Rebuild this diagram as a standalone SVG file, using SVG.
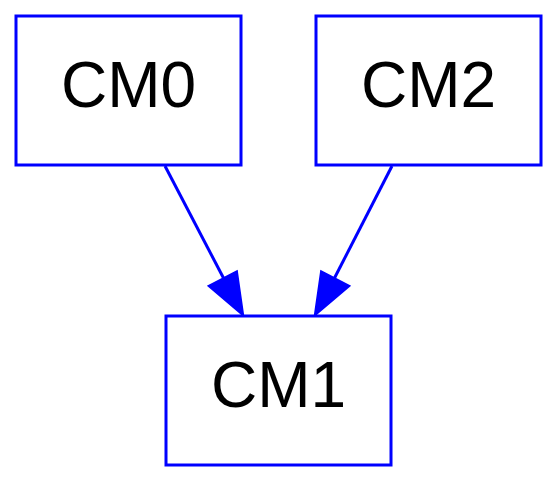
<svg xmlns="http://www.w3.org/2000/svg" width="558" height="483" viewBox="0 0 558 483">
<style>
.box{fill:#fff;stroke:#0000ff;stroke-width:3}
.lbl{font-family:"Liberation Sans",Arial,sans-serif;font-size:64px;fill:#000;text-anchor:middle}
.edge{stroke:#0000ff;stroke-width:3;fill:none}
.head{fill:#0000ff;stroke:#0000ff;stroke-width:3;stroke-linejoin:miter}
</style>
<rect width="558" height="483" fill="#fff"/>
<g id="connectors">
<g id="e-CM0-CM1">
<line class="edge" x1="165" y1="166" x2="224" y2="279"/>
<polygon class="head" points="242.5,314 209.5,286 236.5,272"/>
</g>
<g id="e-CM2-CM1">
<line class="edge" x1="392" y1="166" x2="334" y2="279"/>
<polygon class="head" points="315.5,314 321.5,272 348.5,286"/>
</g>
</g>
<g id="CM0">
<rect class="box" x="16" y="16" width="225" height="149"/>
<text class="lbl" x="128.5" y="107">CM0</text>
</g>
<g id="CM2">
<rect class="box" x="316" y="16" width="225" height="149"/>
<text class="lbl" x="428.5" y="107">CM2</text>
</g>
<g id="CM1">
<rect class="box" x="166" y="316" width="225" height="149"/>
<text class="lbl" x="278.5" y="407">CM1</text>
</g>
</svg>
